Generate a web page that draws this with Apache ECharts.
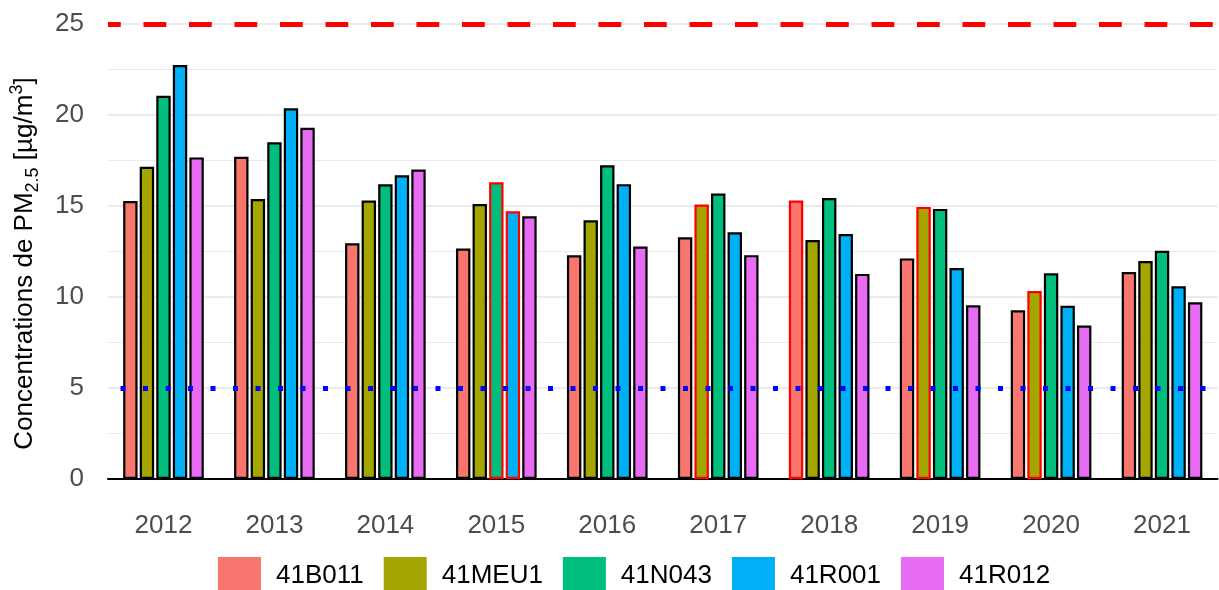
<!DOCTYPE html>
<html>
<head>
<meta charset="utf-8">
<script src="https://cdn.jsdelivr.net/npm/echarts@6/dist/echarts.min.js"></script>
<style>
  html, body { margin: 0; padding: 0; background: #fff; }
  #chart { width: 1219px; height: 590px; }
</style>
</head>
<body>
<div id="chart"></div>
<script>
// années et stations
const years = ['2012', '2013', '2014', '2015', '2016', '2017', '2018', '2019', '2020', '2021']
const stations = ['41B011', '41MEU1', '41N043', '41R001', '41R012']

// moyennes annuelles PM2.5 (µg/m3)
const b011 = [15.27, 17.71, 12.95, 12.66, 12.29, 13.28, 15.3, 12.12, 9.27, 11.37]
const meu1 = [17.16, 15.38, 15.3, 15.11, 14.22, 15.08, 13.13, 14.95, 10.33, 11.98]
const n043 = [21.06, 18.5, 16.19, 16.3, 17.24, 15.68, 15.44, 14.84, 11.3, 12.54]
const r001 = [22.75, 20.37, 16.69, 14.71, 16.2, 13.56, 13.46, 11.59, 9.52, 10.59]
const r012 = [17.67, 19.3, 17.0, 14.43, 12.77, 12.3, 11.27, 9.54, 8.43, 9.71]

// barres marquées (station, année)
const flagged = [
  ['41N043', '2015'], ['41R001', '2015'],
  ['41MEU1', '2017'], ['41B011', '2018'],
  ['41MEU1', '2019'], ['41MEU1', '2020']
]

// valeurs limites
const limitEU = 25
const guideOMS = 5

const colors = ['#F8766D', '#A3A500', '#00BF7D', '#00B0F6', '#E76BF3']
const values = [b011, meu1, n043, r001, r012]
const font = 'Liberation Sans, Arial, sans-serif'

const isFlagged = (station, year) =>
  flagged.some(f => f[0] === station && f[1] === year)

const series = stations.map((name, i) => ({
  name: name,
  type: 'bar',
  barWidth: 14.4,
  barGap: '15%',
  itemStyle: { color: colors[i], borderColor: '#000', borderWidth: 2.2 },
  data: values[i].map((v, j) => {
    if (isFlagged(name, years[j])) {
      return { value: v, itemStyle: { borderColor: '#FF0000' } }
    }
    return v
  })
}))

// lignes de référence
series[0].markLine = {
  silent: true,
  symbol: 'none',
  label: { show: false },
  z: 10,
  data: [
    { yAxis: limitEU, lineStyle: { color: '#FF0000', width: 5, type: [22.75, 22.75], dashOffset: 10 } },
    { yAxis: guideOMS, lineStyle: { color: '#0000FF', width: 5, type: [5, 17.5], dashOffset: 10 } }
  ]
}

const chart = echarts.init(document.getElementById('chart'))
chart.setOption({
  animation: false,
  backgroundColor: '#fff',
  textStyle: { fontFamily: font },
  legend: {
    data: stations,
    left: 213,
    top: 552,
    icon: 'rect',
    itemWidth: 43,
    itemHeight: 38,
    itemGap: 20,
    itemStyle: { borderWidth: 0 },
    textStyle: { fontSize: 26, color: '#000', fontFamily: font, padding: [0, 0, 0, 10] }
  },
  grid: { left: 108, right: 1.5, top: 24, bottom: 111, outerBoundsMode: 'none' },
  xAxis: {
    type: 'category',
    data: years,
    axisLine: { lineStyle: { color: '#000', width: 2.2 } },
    axisTick: { show: false },
    axisLabel: { fontSize: 26, color: '#4D4D4D', margin: 34, fontFamily: font },
    splitLine: { show: false }
  },
  yAxis: {
    type: 'value',
    min: 0,
    max: 25,
    interval: 5,
    name: 'Concentrations de PM{sub|2.5} [µg/m{sup|3}]',
    nameLocation: 'middle',
    nameRotate: 90,
    nameGap: 66,
    nameTextStyle: {
      fontSize: 26,
      color: '#000',
      fontFamily: font,
      lineHeight: 34,
      padding: [0, 24, 0, 0],
      rich: {
        sub: { fontSize: 18, lineHeight: 18, verticalAlign: 'bottom', fontFamily: font, color: '#000' },
        sup: { fontSize: 18, lineHeight: 18, verticalAlign: 'top', fontFamily: font, color: '#000' }
      }
    },
    axisLine: { show: false },
    axisTick: { show: false },
    axisLabel: { fontSize: 26, color: '#4D4D4D', margin: 24, fontFamily: font },
    splitLine: { lineStyle: { color: '#EBEBEB', width: 2 } },
    minorTick: { show: false, splitNumber: 2 },
    minorSplitLine: { show: true, lineStyle: { color: '#EBEBEB', width: 1 } }
  },
  series: series
})
</script>
</body>
</html>
